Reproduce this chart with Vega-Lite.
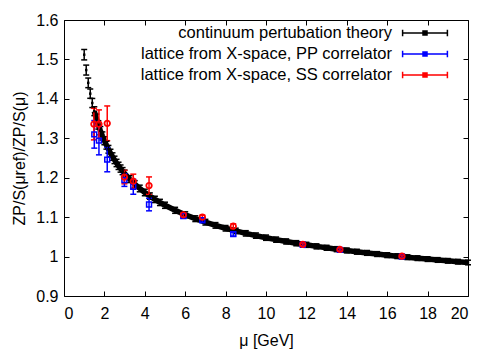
{
  "$schema": "https://vega.github.io/schema/vega-lite/v6.json",
  "width": 404,
  "height": 276,
  "autosize": "none",
  "padding": {"left": 64, "top": 20, "right": 30, "bottom": 53},
  "background": "white",
  "config": {
    "view": {"stroke": null},
    "font": "Liberation Sans",
    "axis": {
      "grid": false,
      "domainColor": "#000000",
      "domainWidth": 1,
      "tickColor": "#000000",
      "tickSize": -5,
      "labelColor": "#000000",
      "titleColor": "#000000",
      "labelFont": "Liberation Sans",
      "titleFont": "Liberation Sans",
      "labelFontSize": 16,
      "titleFontSize": 16,
      "titleFontWeight": "normal"
    }
  },
  "datasets": {
    "all": [
      {"series": "continuum pertubation theory", "mu": 1.0, "z": 1.5120, "err": 0.0132},
      {"series": "continuum pertubation theory", "mu": 1.1, "z": 1.4730, "err": 0.0126},
      {"series": "continuum pertubation theory", "mu": 1.2, "z": 1.4406, "err": 0.0122},
      {"series": "continuum pertubation theory", "mu": 1.3, "z": 1.4132, "err": 0.0118},
      {"series": "continuum pertubation theory", "mu": 1.4, "z": 1.3895, "err": 0.0115},
      {"series": "continuum pertubation theory", "mu": 1.5, "z": 1.3687, "err": 0.0112},
      {"series": "continuum pertubation theory", "mu": 1.6, "z": 1.3504, "err": 0.0109},
      {"series": "continuum pertubation theory", "mu": 1.7, "z": 1.3340, "err": 0.0107},
      {"series": "continuum pertubation theory", "mu": 1.8, "z": 1.3193, "err": 0.0105},
      {"series": "continuum pertubation theory", "mu": 1.9, "z": 1.3059, "err": 0.0103},
      {"series": "continuum pertubation theory", "mu": 2.0, "z": 1.2937, "err": 0.0101},
      {"series": "continuum pertubation theory", "mu": 2.1, "z": 1.2825, "err": 0.0100},
      {"series": "continuum pertubation theory", "mu": 2.2, "z": 1.2721, "err": 0.0098},
      {"series": "continuum pertubation theory", "mu": 2.3, "z": 1.2625, "err": 0.0097},
      {"series": "continuum pertubation theory", "mu": 2.4, "z": 1.2536, "err": 0.0095},
      {"series": "continuum pertubation theory", "mu": 2.5, "z": 1.2452, "err": 0.0094},
      {"series": "continuum pertubation theory", "mu": 2.6, "z": 1.2374, "err": 0.0093},
      {"series": "continuum pertubation theory", "mu": 2.7, "z": 1.2301, "err": 0.0092},
      {"series": "continuum pertubation theory", "mu": 2.8, "z": 1.2232, "err": 0.0091},
      {"series": "continuum pertubation theory", "mu": 2.9, "z": 1.2167, "err": 0.0090},
      {"series": "continuum pertubation theory", "mu": 3.0, "z": 1.2105, "err": 0.0089},
      {"series": "continuum pertubation theory", "mu": 3.25, "z": 1.1964, "err": 0.0087},
      {"series": "continuum pertubation theory", "mu": 3.5, "z": 1.1839, "err": 0.0086},
      {"series": "continuum pertubation theory", "mu": 3.75, "z": 1.1727, "err": 0.0084},
      {"series": "continuum pertubation theory", "mu": 4.0, "z": 1.1626, "err": 0.0083},
      {"series": "continuum pertubation theory", "mu": 4.25, "z": 1.1534, "err": 0.0081},
      {"series": "continuum pertubation theory", "mu": 4.5, "z": 1.1450, "err": 0.0080},
      {"series": "continuum pertubation theory", "mu": 4.75, "z": 1.1373, "err": 0.0079},
      {"series": "continuum pertubation theory", "mu": 5.0, "z": 1.1301, "err": 0.0078},
      {"series": "continuum pertubation theory", "mu": 5.5, "z": 1.1173, "err": 0.0076},
      {"series": "continuum pertubation theory", "mu": 6.0, "z": 1.1060, "err": 0.0075},
      {"series": "continuum pertubation theory", "mu": 6.5, "z": 1.0961, "err": 0.0073},
      {"series": "continuum pertubation theory", "mu": 7.0, "z": 1.0872, "err": 0.0072},
      {"series": "continuum pertubation theory", "mu": 7.5, "z": 1.0791, "err": 0.0071},
      {"series": "continuum pertubation theory", "mu": 8.0, "z": 1.0718, "err": 0.0070},
      {"series": "continuum pertubation theory", "mu": 8.5, "z": 1.0651, "err": 0.0069},
      {"series": "continuum pertubation theory", "mu": 9.0, "z": 1.0589, "err": 0.0068},
      {"series": "continuum pertubation theory", "mu": 9.5, "z": 1.0532, "err": 0.0067},
      {"series": "continuum pertubation theory", "mu": 10.0, "z": 1.0479, "err": 0.0067},
      {"series": "continuum pertubation theory", "mu": 10.5, "z": 1.0429, "err": 0.0066},
      {"series": "continuum pertubation theory", "mu": 11.0, "z": 1.0383, "err": 0.0065},
      {"series": "continuum pertubation theory", "mu": 11.5, "z": 1.0339, "err": 0.0065},
      {"series": "continuum pertubation theory", "mu": 12.0, "z": 1.0298, "err": 0.0064},
      {"series": "continuum pertubation theory", "mu": 12.5, "z": 1.0259, "err": 0.0064},
      {"series": "continuum pertubation theory", "mu": 13.0, "z": 1.0223, "err": 0.0063},
      {"series": "continuum pertubation theory", "mu": 13.5, "z": 1.0188, "err": 0.0063},
      {"series": "continuum pertubation theory", "mu": 14.0, "z": 1.0155, "err": 0.0062},
      {"series": "continuum pertubation theory", "mu": 14.5, "z": 1.0123, "err": 0.0062},
      {"series": "continuum pertubation theory", "mu": 15.0, "z": 1.0093, "err": 0.0061},
      {"series": "continuum pertubation theory", "mu": 15.5, "z": 1.0064, "err": 0.0061},
      {"series": "continuum pertubation theory", "mu": 16.0, "z": 1.0036, "err": 0.0061},
      {"series": "continuum pertubation theory", "mu": 16.5, "z": 1.0010, "err": 0.0060},
      {"series": "continuum pertubation theory", "mu": 17.0, "z": 0.9984, "err": 0.0060},
      {"series": "continuum pertubation theory", "mu": 17.5, "z": 0.9960, "err": 0.0059},
      {"series": "continuum pertubation theory", "mu": 18.0, "z": 0.9936, "err": 0.0059},
      {"series": "continuum pertubation theory", "mu": 18.5, "z": 0.9914, "err": 0.0059},
      {"series": "continuum pertubation theory", "mu": 19.0, "z": 0.9892, "err": 0.0058},
      {"series": "continuum pertubation theory", "mu": 19.5, "z": 0.9871, "err": 0.0058},
      {"series": "continuum pertubation theory", "mu": 20.0, "z": 0.9850, "err": 0.0058},
      {"series": "lattice from X-space, PP correlator", "mu": 1.50, "z": 1.310, "err": 0.035},
      {"series": "lattice from X-space, PP correlator", "mu": 1.73, "z": 1.294, "err": 0.036},
      {"series": "lattice from X-space, PP correlator", "mu": 2.14, "z": 1.246, "err": 0.031},
      {"series": "lattice from X-space, PP correlator", "mu": 2.99, "z": 1.194, "err": 0.016},
      {"series": "lattice from X-space, PP correlator", "mu": 3.43, "z": 1.177, "err": 0.019},
      {"series": "lattice from X-space, PP correlator", "mu": 4.21, "z": 1.132, "err": 0.016},
      {"series": "lattice from X-space, PP correlator", "mu": 5.91, "z": 1.103, "err": 0.005},
      {"series": "lattice from X-space, PP correlator", "mu": 6.85, "z": 1.092, "err": 0.005},
      {"series": "lattice from X-space, PP correlator", "mu": 8.38, "z": 1.057, "err": 0.005},
      {"series": "lattice from X-space, PP correlator", "mu": 11.82, "z": 1.030, "err": 0.003},
      {"series": "lattice from X-space, PP correlator", "mu": 13.66, "z": 1.017, "err": 0.003},
      {"series": "lattice from X-space, PP correlator", "mu": 16.73, "z": 1.000, "err": 0.003},
      {"series": "lattice from X-space, SS correlator", "mu": 1.48, "z": 1.336, "err": 0.040},
      {"series": "lattice from X-space, SS correlator", "mu": 1.73, "z": 1.336, "err": 0.036},
      {"series": "lattice from X-space, SS correlator", "mu": 2.14, "z": 1.338, "err": 0.044},
      {"series": "lattice from X-space, SS correlator", "mu": 2.99, "z": 1.2015, "err": 0.017},
      {"series": "lattice from X-space, SS correlator", "mu": 3.43, "z": 1.191, "err": 0.018},
      {"series": "lattice from X-space, SS correlator", "mu": 4.21, "z": 1.180, "err": 0.022},
      {"series": "lattice from X-space, SS correlator", "mu": 5.91, "z": 1.106, "err": 0.005},
      {"series": "lattice from X-space, SS correlator", "mu": 6.85, "z": 1.100, "err": 0.005},
      {"series": "lattice from X-space, SS correlator", "mu": 8.38, "z": 1.077, "err": 0.006},
      {"series": "lattice from X-space, SS correlator", "mu": 11.82, "z": 1.031, "err": 0.003},
      {"series": "lattice from X-space, SS correlator", "mu": 13.66, "z": 1.018, "err": 0.003},
      {"series": "lattice from X-space, SS correlator", "mu": 16.73, "z": 1.001, "err": 0.003}
    ]
  },
  "data": {"name": "all"},
  "resolve": {"axis": {"x": "independent", "y": "independent"}},
  "layer": [
    {
      "transform": [
        {"filter": "datum.series === 'continuum pertubation theory' && datum.mu >= 1.5"}
      ],
      "mark": {"type": "line", "color": "#000000", "strokeWidth": 5.5},
      "encoding": {
        "x": {"field": "mu", "type": "quantitative",
              "scale": {"domain": [0, 20], "nice": false, "zero": false},
              "axis": {"orient": "top", "labels": false, "title": null, "values": [0,2,4,6,8,10,12,14,16,18,20]}},
        "y": {"field": "z", "type": "quantitative",
              "scale": {"domain": [0.9, 1.6], "nice": false, "zero": false},
              "axis": {"orient": "right", "labels": false, "title": null, "values": [0.9,1.0,1.1,1.2,1.3,1.4,1.5,1.6]}}
      }
    },
    {
      "mark": {"type": "errorbar", "ticks": {"size": 6, "thickness": 1.5, "opacity": 1}, "thickness": 1.5, "opacity": 1},
      "encoding": {
        "x": {"field": "mu", "type": "quantitative",
              "axis": {"orient": "bottom", "title": "μ [GeV]", "values": [0,2,4,6,8,10,12,14,16,18,20], "format": "d", "labelPadding": 14, "titlePadding": 11}},
        "y": {"field": "z", "type": "quantitative",
              "axis": {"orient": "left", "title": "ZP/S(μref)/ZP/S(μ)", "values": [0.9,1.0,1.1,1.2,1.3,1.4,1.5,1.6], "format": "~g", "labelPadding": 11, "titlePadding": 8}},
        "yError": {"field": "err"},
        "color": {"field": "series", "type": "nominal",
                  "scale": {"domain": ["continuum pertubation theory", "lattice from X-space, PP correlator", "lattice from X-space, SS correlator"],
                            "range": ["#000000", "#0000ff", "#ff0000"]},
                  "legend": {
                    "orient": "none", "legendX": 352, "legendY": 4,
                    "title": null, "padding": 0,
                    "symbolType": "M-2.8,0H2.8M-2.8,-0.4V0.4M2.8,-0.4V0.4M-0.25,-0.25H0.25V0.25H-0.25Z",
                    "symbolSize": 256, "symbolStrokeWidth": 1.5, "symbolFillColor": "transparent", "symbolOpacity": 1,
                    "labelAlign": "right", "labelOffset": -42, "labelFontSize": 16.5, "labelFont": "Liberation Sans",
                    "labelLimit": 0, "labelColor": "#000000", "rowPadding": 3
                  }}
      }
    },
    {
      "transform": [{"filter": "datum.series === 'continuum pertubation theory'"}],
      "mark": {"type": "point", "shape": "square", "filled": true, "size": 6, "color": "#000000", "opacity": 1},
      "encoding": {
        "x": {"field": "mu", "type": "quantitative", "axis": null},
        "y": {"field": "z", "type": "quantitative", "axis": null}
      }
    },
    {
      "transform": [{"filter": "datum.series === 'lattice from X-space, PP correlator'"}],
      "mark": {"type": "point", "shape": "square", "filled": false, "size": 24, "strokeWidth": 1.5, "color": "#0000ff", "opacity": 1},
      "encoding": {
        "x": {"field": "mu", "type": "quantitative", "axis": null},
        "y": {"field": "z", "type": "quantitative", "axis": null}
      }
    },
    {
      "transform": [{"filter": "datum.series === 'lattice from X-space, SS correlator'"}],
      "mark": {"type": "point", "shape": "circle", "filled": false, "size": 30, "strokeWidth": 1.8, "color": "#ff0000", "opacity": 1},
      "encoding": {
        "x": {"field": "mu", "type": "quantitative", "axis": null},
        "y": {"field": "z", "type": "quantitative", "axis": null}
      }
    }
  ]
}
